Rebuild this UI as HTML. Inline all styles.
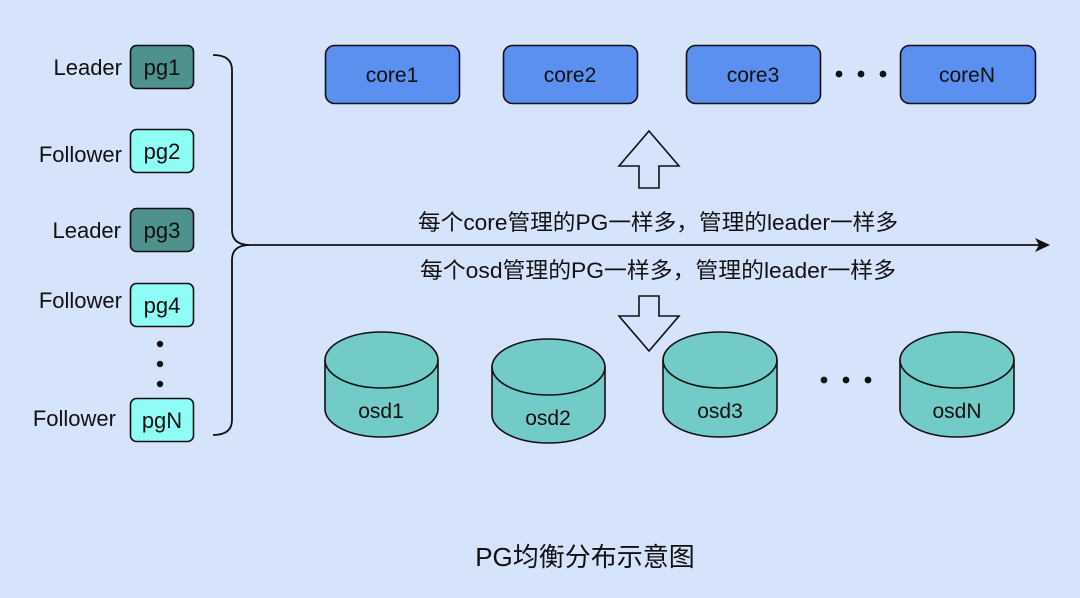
<!DOCTYPE html>
<html><head><meta charset="utf-8"><style>
html,body{margin:0;padding:0;background:#d5e3fb;}
svg{display:block;}
text{font-family:"Liberation Sans","Noto Sans CJK SC",sans-serif;fill:#111;}
</style></head><body>
<svg width="1080" height="598" viewBox="0 0 1080 598" xmlns="http://www.w3.org/2000/svg">
<rect width="1080" height="598" fill="#d5e3fb"/>
<g stroke="#111" stroke-width="1.6">
<rect x="130.5" y="45.5" width="63" height="43" rx="6" fill="#4f918d"/>
<rect x="130.5" y="129.5" width="63" height="43" rx="6" fill="#8ffcf6"/>
<rect x="130.5" y="208.5" width="63" height="43" rx="6" fill="#4f918d"/>
<rect x="130.5" y="283.5" width="63" height="43" rx="6" fill="#8ffcf6"/>
<rect x="130.5" y="398.5" width="63" height="43" rx="6" fill="#8ffcf6"/>
</g>
<g font-size="22" text-anchor="middle">
<text x="162" y="75">pg1</text><text x="162" y="159">pg2</text><text x="162" y="238">pg3</text><text x="162" y="313">pg4</text><text x="162" y="428">pgN</text>
</g>
<g font-size="22" text-anchor="end">
<text x="122" y="75">Leader</text><text x="122" y="162">Follower</text><text x="121" y="238">Leader</text><text x="122" y="308">Follower</text><text x="116" y="426">Follower</text>
</g>
<g fill="#111"><circle cx="160" cy="344" r="3.2"/><circle cx="160" cy="364" r="3.2"/><circle cx="160" cy="384" r="3.2"/></g>
<path d="M213 55 Q232 55 232 70 L232 230 Q232 245 250 245 Q232 245 232 260 L232 420 Q232 435 213 435" fill="none" stroke="#111" stroke-width="1.8"/>
<line x1="250" y1="245" x2="1040" y2="245" stroke="#111" stroke-width="1.8"/>
<path d="M1050 245 L1035 238 L1039 245 L1035 252 Z" fill="#111"/>
<g stroke="#111" stroke-width="1.6" fill="#5b8ff0">
<rect x="325.5" y="45.5" width="134" height="58" rx="9"/>
<rect x="503.5" y="45.5" width="134" height="58" rx="9"/>
<rect x="686.5" y="45.5" width="134" height="58" rx="9"/>
<rect x="900.5" y="45.5" width="135" height="58" rx="9"/>
</g>
<g font-size="21" text-anchor="middle">
<text x="392" y="82">core1</text><text x="570" y="82">core2</text><text x="753" y="82">core3</text><text x="967" y="82">coreN</text>
</g>
<g fill="#111"><circle cx="839" cy="74" r="3.4"/><circle cx="861" cy="74" r="3.4"/><circle cx="883" cy="74" r="3.4"/>
<circle cx="824" cy="380" r="3.4"/><circle cx="846" cy="380" r="3.4"/><circle cx="868" cy="380" r="3.4"/></g>
<path d="M649 131 L679 166 L659 166 L659 188 L639 188 L639 166 L619 166 Z" fill="none" stroke="#111" stroke-width="1.6"/>
<path d="M639 296 L659 296 L659 316 L679 316 L649 351 L619 316 L639 316 Z" fill="none" stroke="#111" stroke-width="1.6"/>
<g text-anchor="middle">
<text x="658" y="230" font-size="22" textLength="480" lengthAdjust="spacingAndGlyphs">每个core管理的PG一样多，管理的leader一样多</text>
<text x="658" y="278" font-size="22" textLength="476" lengthAdjust="spacingAndGlyphs">每个osd管理的PG一样多，管理的leader一样多</text>
<text x="585" y="566" font-size="26">PG均衡分布示意图</text>
</g>
<g stroke="#111" stroke-width="1.6" fill="#72cbc7">
<path d="M325 360 L325 409 A56.5 28 0 0 0 438 409 L438 360 A56.5 28 0 0 0 325 360 Z"/><path d="M325 360 A56.5 28 0 0 0 438 360" fill="none"/>
<path d="M492 367 L492 415 A56.5 28 0 0 0 605 415 L605 367 A56.5 28 0 0 0 492 367 Z"/><path d="M492 367 A56.5 28 0 0 0 605 367" fill="none"/>
<path d="M663 360 L663 409 A57 28 0 0 0 777 409 L777 360 A57 28 0 0 0 663 360 Z"/><path d="M663 360 A57 28 0 0 0 777 360" fill="none"/>
<path d="M900 360 L900 409 A57 28 0 0 0 1014 409 L1014 360 A57 28 0 0 0 900 360 Z"/><path d="M900 360 A57 28 0 0 0 1014 360" fill="none"/>
</g>
<g font-size="21" text-anchor="middle">
<text x="381" y="418">osd1</text><text x="548" y="425">osd2</text><text x="720" y="418">osd3</text><text x="957" y="418">osdN</text>
</g>
</svg>
</body></html>
